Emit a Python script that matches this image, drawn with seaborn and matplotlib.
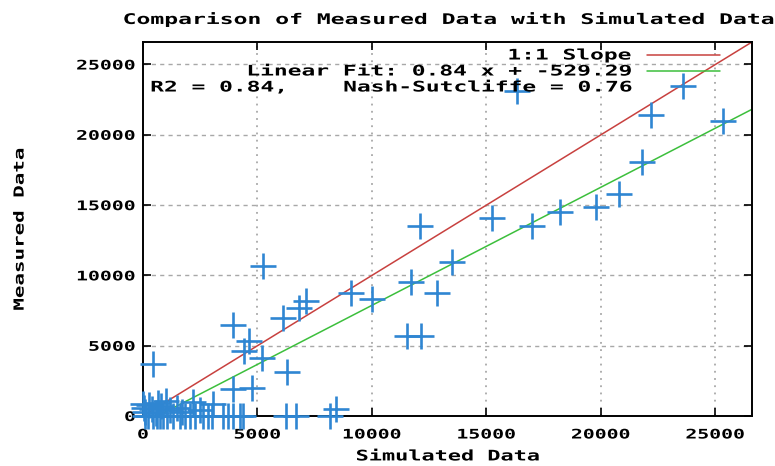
import matplotlib
matplotlib.use("Agg")
import matplotlib.pyplot as plt
import seaborn as sns
import numpy as np
import pandas as pd
from matplotlib.lines import Line2D
from matplotlib.patheffects import AbstractPathEffect
from matplotlib.transforms import Affine2D

# ---- data ----
simulated = [23600, 22200, 25350, 21800, 20800, 19800, 18200, 17000, 15250, 16350,
             12100, 13500, 11700, 12850, 9100, 10000, 11550, 12150, 8450, 8150,
             5250, 7100, 6800, 6100, 3950, 4650, 4400, 5200, 450, 6300,
             3950, 4750, 2200, 3050, 6250, 6700,
             90, 220, 440, 610, 740, 870, 1050, 1310, 1620, 1830,
             2050, 2270, 2620, 2840, 3010, 3490, 3710, 3930, 4240, 4370,
             0, 50, 100, 250, 400, 550, 650, 800, 1000, 1200, 1500, 1700, 2500]
measured = [23500, 21400, 21000, 18050, 15800, 14850, 14500, 13500, 14100, 23150,
            13500, 10950, 9500, 8750, 8750, 8350, 5700, 5700, 500, 0,
            10700, 8150, 7700, 7000, 6500, 5300, 4600, 4100, 3700, 3100,
            1900, 2000, 1000, 850, 0, 0,
            0, 0, 0, 0, 0, 0, 0, 0, 0, 0,
            0, 0, 0, 0, 0, 0, 0, 0, 0, 0,
            850, 600, 300, 750, 500, 200, 950, 700, 1100, 400, 600, 250, 400]
fit_slope = 0.84
fit_intercept = -529.29
r2 = 0.84
nash_sutcliffe = 0.76
axis_max = 26600
ticks = [0, 5000, 10000, 15000, 20000, 25000]

title = "Comparison of Measured Data with Simulated Data"
xlabel = "Simulated Data"
ylabel = "Measured Data"
legend_labels = ["1:1 Slope",
                 f"Linear Fit: {fit_slope:.2f} x + {fit_intercept:.2f}",
                 f"R2 = {r2:.2f},    Nash-Sutcliffe = {nash_sutcliffe:.2f}"]

# ---- styling ----
sns.set_style("white")
plt.rcParams['font.family'] = ['DejaVu Sans Mono']
plt.rcParams['font.weight'] = 'bold'
for k in ['text.color', 'axes.labelcolor', 'xtick.color', 'ytick.color']:
    plt.rcParams[k] = 'black'

RED = "#c8413f"
GREEN = "#3cbf3c"
BLUE = "#2f86d2"
GRID = "#a8a8a8"


class Stretch(AbstractPathEffect):
    """Widen glyphs (gnuplot-like wide bitmap font) around a fixed anchor."""

    def __init__(self, sx=1.0, sy=1.0, center=(0.0, 0.0)):
        super().__init__()
        self.sx, self.sy, self.center = sx, sy, center

    def draw_path(self, renderer, gc, tpath, affine, rgbFace=None):
        cx, cy = self.center
        t = affine + Affine2D().translate(-cx, -cy).scale(self.sx, self.sy).translate(cx, cy)
        renderer.draw_path(gc, tpath, t, rgbFace)


fig = plt.figure(figsize=(7.75, 4.66), dpi=100)
ax = fig.add_axes([143 / 775, 1 - 416 / 466, (752 - 143) / 775, (416 - 42) / 466])

df = pd.DataFrame({"sim": simulated, "meas": measured})

line_x = np.array([0.0, axis_max])
sns.lineplot(x=line_x, y=line_x, ax=ax, color=RED, linewidth=1.1, sort=False)
sns.lineplot(x=line_x, y=fit_slope * line_x + fit_intercept, ax=ax, color=GREEN,
             linewidth=1.1, sort=False)

sns.scatterplot(data=df, x="sim", y="meas", ax=ax, marker="+", s=330,
                color=BLUE, linewidth=1.9, clip_on=False, zorder=3)

ax.set_xlim(0, axis_max)
ax.set_ylim(0, axis_max)
ax.set_xticks(ticks)
ax.set_yticks(ticks)
ax.set_xticklabels([str(t) for t in ticks], fontsize=9.5, fontweight='bold')
ax.set_yticklabels([str(t) for t in ticks], fontsize=9.5, fontweight='bold')
ax.tick_params(direction="in", length=6, width=1.2, top=True, right=True,
               bottom=True, left=True, colors="black")
ax.tick_params(axis='x', pad=9)
ax.tick_params(axis='y', pad=5)

for x in ticks[1:]:
    ax.axvline(x, color=GRID, linestyle=(0, (1, 3)), linewidth=1.3, zorder=0)
for y in ticks[1:]:
    ax.axhline(y, color=GRID, linestyle=(0, (3, 3)), linewidth=1.0, zorder=0)

for sp in ax.spines.values():
    sp.set_visible(True)
    sp.set_color("black")
    sp.set_linewidth(1.4)

ax.set_title(title, fontsize=10.5, fontweight='bold', pad=13)
ax.set_xlabel(xlabel, fontsize=10.5, fontweight='bold', labelpad=5)
ax.set_ylabel(ylabel, fontsize=10, fontweight='bold', labelpad=50)

# legend (right-aligned text with line keys, gnuplot style)
text_x = (631 - 143) / (752 - 143)
rows_y = [(416 - 55) / 374, (416 - 71) / 374, (416 - 87) / 374]
legend_texts = []
for lab, yy in zip(legend_labels, rows_y):
    legend_texts.append(ax.text(text_x, yy, lab, transform=ax.transAxes, ha="right",
                                va="center", fontsize=10.5, fontweight='bold',
                                color="black", zorder=5))
k0 = (647 - 143) / (752 - 143)
k1 = (720 - 143) / (752 - 143)
for col, yy in zip([RED, GREEN], rows_y[:2]):
    ax.add_line(Line2D([k0, k1], [yy, yy], transform=ax.transAxes, color=col,
                       linewidth=1.1, zorder=5))

# apply the wide-font look around each text's anchor
fig.canvas.draw()
renderer = fig.canvas.get_renderer()


def widen(t, anchor, sx=1.5, vertical=False):
    bb = t.get_window_extent(renderer)
    if vertical:
        cy = (bb.y0 + bb.y1) / 2
        t.set_path_effects([Stretch(1.0, sx, (0.0, cy))])
    else:
        cx = {"left": bb.x0, "center": (bb.x0 + bb.x1) / 2, "right": bb.x1}[anchor]
        t.set_path_effects([Stretch(sx, 1.0, (cx, 0.0))])


widen(ax.title, "center", sx=1.58)
widen(ax.xaxis.label, "center")
widen(ax.yaxis.label, "center", vertical=True)
for t in ax.get_xticklabels():
    widen(t, "center")
for t in ax.get_yticklabels():
    widen(t, "right")
for t in legend_texts:
    widen(t, "right", sx=1.57)

fig.savefig("out.png", dpi=100)
